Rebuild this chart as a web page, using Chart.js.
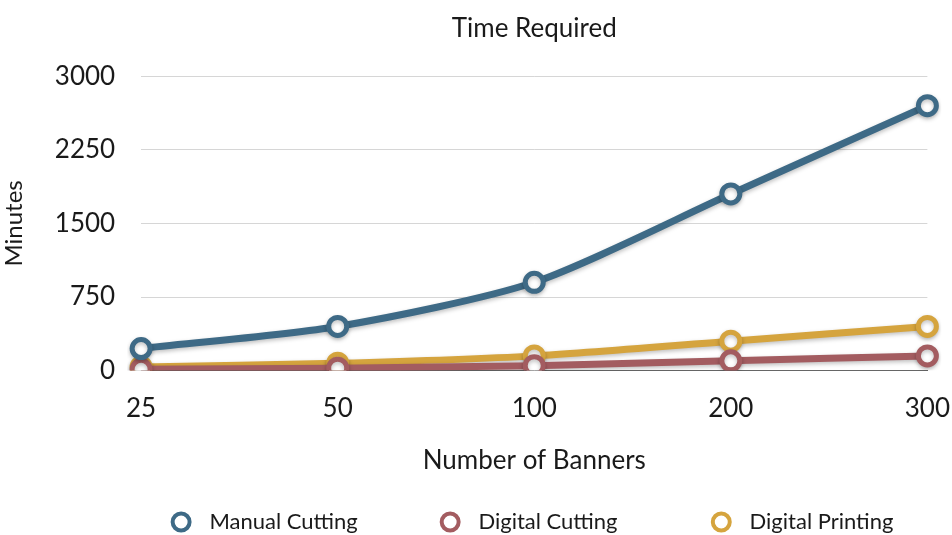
<!DOCTYPE html>
<html>
<head>
<meta charset="utf-8">
<script src="https://cdn.jsdelivr.net/npm/chart.js@4"></script>
<style>
  html, body { margin: 0; padding: 0; background: #fff; overflow: hidden; }
  #wrap { width: 964px; height: 543px; }
</style>
</head>
<body>
<div id="wrap"><canvas id="timeChart"></canvas></div>
<script>
const banners = ['25', '50', '100', '200', '300'];
const manualCutting = [225, 450, 900, 1800, 2700];
const digitalCutting = [12.5, 25, 50, 100, 150];
const digitalPrinting = [37.5, 75, 150, 300, 450];
const yTicks = [0, 750, 1500, 2250, 3000];

const FONT = 'Lato, "Open Sans", sans-serif';
const INK = '#1a1a1a';

function series(label, data, color) {
  return {
    label: label,
    data: data,
    borderColor: color,
    backgroundColor: '#fff',
    borderWidth: 7,
    tension: 0.25,
    pointRadius: 9,
    pointBorderWidth: 5,
    pointBackgroundColor: '#fff',
    pointBorderColor: color,
    pointStyle: 'circle',
  };
}

// soft drop shadow under the lines, like the original
const shadow = {
  id: 'shadow',
  beforeDatasetsDraw(chart) {
    const ctx = chart.ctx;
    ctx.save();
    ctx.shadowColor = 'rgba(0,0,0,.25)';
    ctx.shadowBlur = 4;
    ctx.shadowOffsetY = 2;
  },
  afterDatasetsDraw(chart) {
    chart.ctx.restore();
  },
};

// trailing spaces give the wide gaps between legend entries
const legendGaps = [15, 17, 0];

new Chart(document.getElementById('timeChart'), {
  type: 'line',
  data: {
    labels: banners,
    datasets: [
      series('Manual Cutting', manualCutting, '#3e6a86'),
      series('Digital Cutting', digitalCutting, '#a35c60'),
      series('Digital Printing', digitalPrinting, '#d5a43e'),
    ],
  },
  plugins: [shadow],
  options: {
    responsive: true,
    maintainAspectRatio: false,
    animation: false,
    layout: { padding: { left: 0, right: 0, top: 13, bottom: 0 } },
    plugins: {
      title: {
        display: true,
        fullSize: false,
        text: 'Time Required',
        color: INK,
        font: { family: FONT, size: 26, weight: 'normal' },
        padding: { top: 0, bottom: 32 },
      },
      legend: {
        position: 'bottom',
        fullSize: false,
        labels: {
          color: INK,
          font: { family: FONT, size: 22 },
          usePointStyle: true,
          pointStyle: 'circle',
          boxWidth: 12,
          boxHeight: 12,
          padding: 2,
          generateLabels(chart) {
            return chart.data.datasets.map((ds, i) => ({
              text: '  ' + ds.label + ' '.repeat(legendGaps[i]),
              fillStyle: '#fff',
              strokeStyle: ds.borderColor,
              lineWidth: 4,
              pointStyle: 'circle',
              datasetIndex: i,
              fontColor: INK,
            }));
          },
        },
      },
      tooltip: { enabled: false },
    },
    scales: {
      x: {
        offset: false,
        grid: { display: false },
        border: { display: true, color: '#666', width: 1 },
        ticks: { color: INK, font: { family: FONT, size: 26 }, padding: 14, maxRotation: 0 },
        title: {
          display: true,
          text: 'Number of Banners',
          color: INK,
          font: { family: FONT, size: 26 },
          padding: { top: 7, bottom: 33 },
        },
      },
      y: {
        min: 0,
        max: 3000,
        afterBuildTicks(axis) {
          axis.ticks = yTicks.map((v) => ({ value: v }));
        },
        grid: { color: '#d6d6d6', drawTicks: false },
        border: { display: false },
        ticks: {
          color: INK,
          font: { family: FONT, size: 26 },
          padding: 26,
          callback: (v) => String(v),
        },
        title: {
          display: true,
          text: 'Minutes',
          color: INK,
          font: { family: FONT, size: 24 },
          padding: { top: 0, bottom: 0 },
        },
      },
    },
  },
});
</script>
</body>
</html>
